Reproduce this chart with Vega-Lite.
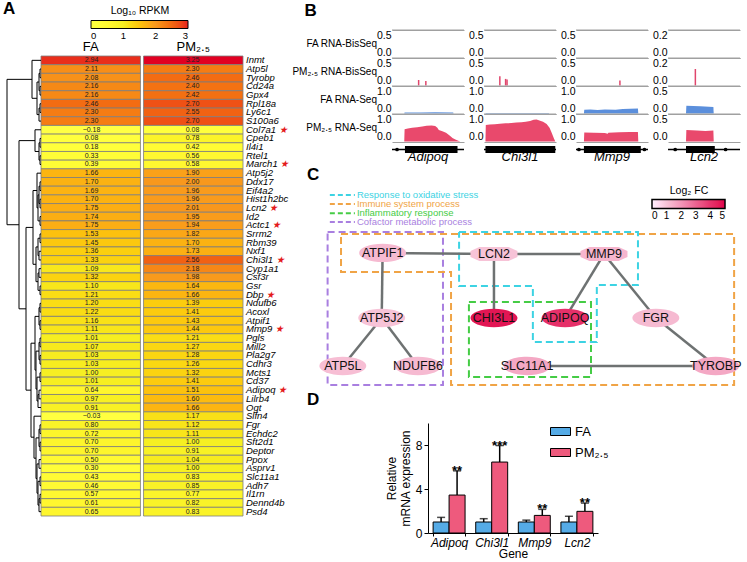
{
"$schema":"https://vega.github.io/schema/vega-lite/v6.json",
"background":"white",
"padding":{"left":3,"top":0,"right":0,"bottom":0},
"config":{"font":"Liberation Sans","view":{"stroke":null}},
"datasets":{
"heat":[
{"g":"Inmt","FA":2.94,"PM":3.25},{"g":"Atp5l","FA":2.11,"PM":2.30},{"g":"Tyrobp","FA":2.08,"PM":2.46},{"g":"Cd24a","FA":2.16,"PM":2.40},{"g":"Gpx4","FA":2.16,"PM":2.42},{"g":"Rpl18a","FA":2.46,"PM":2.70},{"g":"Ly6c1","FA":2.30,"PM":2.55},{"g":"S100a6","FA":2.30,"PM":2.70},
{"g":"Col7a1","FA":-0.18,"PM":0.08,"s":1},{"g":"Cpeb1","FA":0.08,"PM":0.78},{"g":"Il4i1","FA":0.18,"PM":0.42},{"g":"Rtel1","FA":0.33,"PM":0.56},{"g":"March1","FA":0.39,"PM":0.58,"s":1},
{"g":"Atp5j2","FA":1.66,"PM":1.90},{"g":"Ddx17","FA":1.70,"PM":2.00},{"g":"Eif4a2","FA":1.69,"PM":1.96},{"g":"Hist1h2bc","FA":1.70,"PM":1.96},{"g":"Lcn2","FA":1.75,"PM":2.01,"s":1},{"g":"Id2","FA":1.74,"PM":1.95},{"g":"Actc1","FA":1.75,"PM":1.94,"s":1},{"g":"Srrm2","FA":1.53,"PM":1.82},{"g":"Rbm39","FA":1.45,"PM":1.70},{"g":"Nxf1","FA":1.36,"PM":1.73},{"g":"Chi3l1","FA":1.33,"PM":2.56,"s":1},{"g":"Cyp1a1","FA":1.09,"PM":2.18},{"g":"Csf3r","FA":1.32,"PM":1.98},
{"g":"Gsr","FA":1.10,"PM":1.64},{"g":"Dbp","FA":1.21,"PM":1.66,"s":1},{"g":"Ndufb6","FA":1.20,"PM":1.39},{"g":"Acoxl","FA":1.22,"PM":1.41},{"g":"Atpif1","FA":1.16,"PM":1.43},{"g":"Mmp9","FA":1.11,"PM":1.44,"s":1},{"g":"Pgls","FA":1.01,"PM":1.21},{"g":"Mill2","FA":1.07,"PM":1.27},{"g":"Pla2g7","FA":1.03,"PM":1.28},{"g":"Cdhr3","FA":1.03,"PM":1.26},{"g":"Mcts1","FA":1.00,"PM":1.32},{"g":"Cd37","FA":1.01,"PM":1.41},{"g":"Adipoq","FA":0.64,"PM":1.51,"s":1},{"g":"Lilrb4","FA":0.97,"PM":1.60},{"g":"Ogt","FA":0.91,"PM":1.66},
{"g":"Slfn4","FA":-0.03,"PM":1.17},{"g":"Fgr","FA":0.80,"PM":1.12},{"g":"Echdc2","FA":0.72,"PM":1.11},{"g":"Sft2d1","FA":0.70,"PM":1.00},{"g":"Deptor","FA":0.70,"PM":0.91},{"g":"Ppox","FA":0.50,"PM":1.04},{"g":"Asprv1","FA":0.30,"PM":1.00},{"g":"Slc11a1","FA":0.43,"PM":0.83},{"g":"Adh7","FA":0.46,"PM":0.85},{"g":"Il1rn","FA":0.57,"PM":0.77},{"g":"Dennd4b","FA":0.61,"PM":0.82},{"g":"Psd4","FA":0.65,"PM":0.83}
],
"dendro":[
{"h":1,"ya":1.5,"ha":0,"yb":2.5,"hb":0},{"h":1,"ya":3.5,"ha":0,"yb":4.5,"hb":0},{"h":2,"ya":2,"ha":1,"yb":4,"hb":1},{"h":1,"ya":5.5,"ha":0,"yb":6.5,"hb":0},{"h":2,"ya":6,"ha":1,"yb":7.5,"hb":0},{"h":4,"ya":3,"ha":2,"yb":6.75,"hb":2},{"h":9,"ya":0.5,"ha":0,"yb":4.875,"hb":4},
{"h":1,"ya":9.5,"ha":0,"yb":10.5,"hb":0},{"h":1,"ya":11.5,"ha":0,"yb":12.5,"hb":0},{"h":2,"ya":10,"ha":1,"yb":12,"hb":1},{"h":6,"ya":8.5,"ha":0,"yb":11,"hb":2},
{"h":1,"ya":14.5,"ha":0,"yb":15.5,"hb":0},{"h":1,"ya":16.5,"ha":0,"yb":17.5,"hb":0},{"h":1,"ya":18.5,"ha":0,"yb":19.5,"hb":0},{"h":2,"ya":15,"ha":1,"yb":17,"hb":1},{"h":3,"ya":16,"ha":2,"yb":19,"hb":1},{"h":4,"ya":13.5,"ha":0,"yb":17.5,"hb":3},
{"h":1,"ya":20.5,"ha":0,"yb":21.5,"hb":0},{"h":2,"ya":22.5,"ha":0,"yb":23.5,"hb":0},{"h":2,"ya":24.5,"ha":0,"yb":25.5,"hb":0},{"h":1,"ya":26.5,"ha":0,"yb":27.5,"hb":0},{"h":3,"ya":21,"ha":1,"yb":23,"hb":2},{"h":3,"ya":25,"ha":2,"yb":27,"hb":1},{"h":5,"ya":22,"ha":3,"yb":26,"hb":3},{"h":8,"ya":15.5,"ha":4,"yb":24,"hb":5},
{"h":1,"ya":28.5,"ha":0,"yb":29.5,"hb":0},{"h":1,"ya":30.5,"ha":0,"yb":31.5,"hb":0},{"h":2,"ya":29,"ha":1,"yb":31,"hb":1},{"h":1,"ya":32.5,"ha":0,"yb":33.5,"hb":0},{"h":1,"ya":34.5,"ha":0,"yb":35.5,"hb":0},{"h":2,"ya":33,"ha":1,"yb":35,"hb":1},{"h":1,"ya":36.5,"ha":0,"yb":37.5,"hb":0},{"h":2,"ya":38.5,"ha":0,"yb":39.5,"hb":0},{"h":3,"ya":39,"ha":2,"yb":40.5,"hb":0},{"h":4,"ya":37,"ha":1,"yb":39.75,"hb":3},{"h":5,"ya":34,"ha":2,"yb":38.375,"hb":4},{"h":6,"ya":30,"ha":2,"yb":36.19,"hb":5},
{"h":1,"ya":42.5,"ha":0,"yb":43.5,"hb":0},{"h":1,"ya":44.5,"ha":0,"yb":45.5,"hb":0},{"h":2,"ya":43,"ha":1,"yb":45,"hb":1},{"h":2,"ya":46.5,"ha":0,"yb":47.5,"hb":0},{"h":1,"ya":48.5,"ha":0,"yb":49.5,"hb":0},{"h":1,"ya":50.5,"ha":0,"yb":51.5,"hb":0},{"h":2,"ya":51,"ha":1,"yb":52.5,"hb":0},{"h":3,"ya":49,"ha":1,"yb":51.75,"hb":2},{"h":4,"ya":47,"ha":2,"yb":50.375,"hb":3},{"h":5,"ya":44,"ha":2,"yb":48.69,"hb":4},{"h":7,"ya":41.5,"ha":0,"yb":46.34,"hb":5},
{"h":10,"ya":33.09,"ha":6,"yb":43.92,"hb":7},{"h":15,"ya":19.75,"ha":8,"yb":38.5,"hb":10},{"h":22,"ya":9.75,"ha":6,"yb":29.13,"hb":15},{"h":34,"ya":2.69,"ha":9,"yb":19.44,"hb":22}
],
"genome":[
{"g":"Adipoq","t":"FA RNA-BisSeq","k":"max","v":0.5},{"g":"Adipoq","t":"PM₂.₅ RNA-BisSeq","k":"max","v":0.5},{"g":"Adipoq","t":"FA RNA-Seq","k":"max","v":1.0},{"g":"Adipoq","t":"PM₂.₅ RNA-Seq","k":"max","v":1.0},
{"g":"Chi3l1","t":"FA RNA-BisSeq","k":"max","v":0.5},{"g":"Chi3l1","t":"PM₂.₅ RNA-BisSeq","k":"max","v":0.5},{"g":"Chi3l1","t":"FA RNA-Seq","k":"max","v":1.0},{"g":"Chi3l1","t":"PM₂.₅ RNA-Seq","k":"max","v":1.0},
{"g":"Mmp9","t":"FA RNA-BisSeq","k":"max","v":0.5},{"g":"Mmp9","t":"PM₂.₅ RNA-BisSeq","k":"max","v":0.5},{"g":"Mmp9","t":"FA RNA-Seq","k":"max","v":1.0},{"g":"Mmp9","t":"PM₂.₅ RNA-Seq","k":"max","v":1.0},
{"g":"Lcn2","t":"FA RNA-BisSeq","k":"max","v":0.2},{"g":"Lcn2","t":"PM₂.₅ RNA-BisSeq","k":"max","v":0.2},{"g":"Lcn2","t":"FA RNA-Seq","k":"max","v":0.5},{"g":"Lcn2","t":"PM₂.₅ RNA-Seq","k":"max","v":0.5},
{"g":"Adipoq","t":"PM₂.₅ RNA-Seq","k":"cov","p":17,"v":0},{"g":"Adipoq","t":"PM₂.₅ RNA-Seq","k":"cov","p":17.5,"v":0.45},{"g":"Adipoq","t":"PM₂.₅ RNA-Seq","k":"cov","p":22,"v":0.47},{"g":"Adipoq","t":"PM₂.₅ RNA-Seq","k":"cov","p":28,"v":0.5},{"g":"Adipoq","t":"PM₂.₅ RNA-Seq","k":"cov","p":35,"v":0.52},{"g":"Adipoq","t":"PM₂.₅ RNA-Seq","k":"cov","p":42,"v":0.55},{"g":"Adipoq","t":"PM₂.₅ RNA-Seq","k":"cov","p":48,"v":0.57},{"g":"Adipoq","t":"PM₂.₅ RNA-Seq","k":"cov","p":55,"v":0.58},{"g":"Adipoq","t":"PM₂.₅ RNA-Seq","k":"cov","p":60,"v":0.56},{"g":"Adipoq","t":"PM₂.₅ RNA-Seq","k":"cov","p":63,"v":0.5},{"g":"Adipoq","t":"PM₂.₅ RNA-Seq","k":"cov","p":65,"v":0.42},{"g":"Adipoq","t":"PM₂.₅ RNA-Seq","k":"cov","p":70,"v":0.37},{"g":"Adipoq","t":"PM₂.₅ RNA-Seq","k":"cov","p":75,"v":0.32},{"g":"Adipoq","t":"PM₂.₅ RNA-Seq","k":"cov","p":80,"v":0.22},{"g":"Adipoq","t":"PM₂.₅ RNA-Seq","k":"cov","p":84,"v":0.13},{"g":"Adipoq","t":"PM₂.₅ RNA-Seq","k":"cov","p":88,"v":0.07},{"g":"Adipoq","t":"PM₂.₅ RNA-Seq","k":"cov","p":92,"v":0.03},{"g":"Adipoq","t":"PM₂.₅ RNA-Seq","k":"cov","p":95,"v":0},
{"g":"Adipoq","t":"FA RNA-Seq","k":"cov","p":17,"v":0},{"g":"Adipoq","t":"FA RNA-Seq","k":"cov","p":17.5,"v":0.04},{"g":"Adipoq","t":"FA RNA-Seq","k":"cov","p":40,"v":0.04},{"g":"Adipoq","t":"FA RNA-Seq","k":"cov","p":60,"v":0.05},{"g":"Adipoq","t":"FA RNA-Seq","k":"cov","p":85,"v":0.04},{"g":"Adipoq","t":"FA RNA-Seq","k":"cov","p":85.5,"v":0},
{"g":"Adipoq","t":"PM₂.₅ RNA-BisSeq","k":"spike","p":37,"v":0.1},{"g":"Adipoq","t":"PM₂.₅ RNA-BisSeq","k":"spike","p":47,"v":0.08},
{"g":"Chi3l1","t":"PM₂.₅ RNA-Seq","k":"cov","p":2,"v":0},{"g":"Chi3l1","t":"PM₂.₅ RNA-Seq","k":"cov","p":2.5,"v":0.6},{"g":"Chi3l1","t":"PM₂.₅ RNA-Seq","k":"cov","p":8,"v":0.62},{"g":"Chi3l1","t":"PM₂.₅ RNA-Seq","k":"cov","p":15,"v":0.63},{"g":"Chi3l1","t":"PM₂.₅ RNA-Seq","k":"cov","p":22,"v":0.65},{"g":"Chi3l1","t":"PM₂.₅ RNA-Seq","k":"cov","p":30,"v":0.66},{"g":"Chi3l1","t":"PM₂.₅ RNA-Seq","k":"cov","p":38,"v":0.67},{"g":"Chi3l1","t":"PM₂.₅ RNA-Seq","k":"cov","p":45,"v":0.69},{"g":"Chi3l1","t":"PM₂.₅ RNA-Seq","k":"cov","p":52,"v":0.7},{"g":"Chi3l1","t":"PM₂.₅ RNA-Seq","k":"cov","p":58,"v":0.72},{"g":"Chi3l1","t":"PM₂.₅ RNA-Seq","k":"cov","p":64,"v":0.75},{"g":"Chi3l1","t":"PM₂.₅ RNA-Seq","k":"cov","p":69,"v":0.79},{"g":"Chi3l1","t":"PM₂.₅ RNA-Seq","k":"cov","p":73,"v":0.8},{"g":"Chi3l1","t":"PM₂.₅ RNA-Seq","k":"cov","p":77,"v":0.76},{"g":"Chi3l1","t":"PM₂.₅ RNA-Seq","k":"cov","p":82,"v":0.72},{"g":"Chi3l1","t":"PM₂.₅ RNA-Seq","k":"cov","p":87,"v":0.64},{"g":"Chi3l1","t":"PM₂.₅ RNA-Seq","k":"cov","p":91,"v":0.5},{"g":"Chi3l1","t":"PM₂.₅ RNA-Seq","k":"cov","p":94,"v":0.32},{"g":"Chi3l1","t":"PM₂.₅ RNA-Seq","k":"cov","p":97,"v":0.12},{"g":"Chi3l1","t":"PM₂.₅ RNA-Seq","k":"cov","p":99,"v":0},
{"g":"Chi3l1","t":"FA RNA-Seq","k":"cov","p":2,"v":0},{"g":"Chi3l1","t":"FA RNA-Seq","k":"cov","p":2.5,"v":0.02},{"g":"Chi3l1","t":"FA RNA-Seq","k":"cov","p":50,"v":0.02},{"g":"Chi3l1","t":"FA RNA-Seq","k":"cov","p":90,"v":0.02},{"g":"Chi3l1","t":"FA RNA-Seq","k":"cov","p":90.5,"v":0},
{"g":"Chi3l1","t":"PM₂.₅ RNA-BisSeq","k":"spike","p":22,"v":0.17},{"g":"Chi3l1","t":"PM₂.₅ RNA-BisSeq","k":"spike","p":30,"v":0.12},{"g":"Chi3l1","t":"PM₂.₅ RNA-BisSeq","k":"spike","p":32,"v":0.11},
{"g":"Mmp9","t":"PM₂.₅ RNA-Seq","k":"cov","p":11,"v":0},{"g":"Mmp9","t":"PM₂.₅ RNA-Seq","k":"cov","p":11.5,"v":0.33},{"g":"Mmp9","t":"PM₂.₅ RNA-Seq","k":"cov","p":25,"v":0.32},{"g":"Mmp9","t":"PM₂.₅ RNA-Seq","k":"cov","p":40,"v":0.31},{"g":"Mmp9","t":"PM₂.₅ RNA-Seq","k":"cov","p":44,"v":0.28},{"g":"Mmp9","t":"PM₂.₅ RNA-Seq","k":"cov","p":45,"v":0.32},{"g":"Mmp9","t":"PM₂.₅ RNA-Seq","k":"cov","p":60,"v":0.34},{"g":"Mmp9","t":"PM₂.₅ RNA-Seq","k":"cov","p":75,"v":0.35},{"g":"Mmp9","t":"PM₂.₅ RNA-Seq","k":"cov","p":86,"v":0.35},{"g":"Mmp9","t":"PM₂.₅ RNA-Seq","k":"cov","p":86.5,"v":0},
{"g":"Mmp9","t":"FA RNA-Seq","k":"cov","p":11,"v":0},{"g":"Mmp9","t":"FA RNA-Seq","k":"cov","p":11.5,"v":0.14},{"g":"Mmp9","t":"FA RNA-Seq","k":"cov","p":20,"v":0.15},{"g":"Mmp9","t":"FA RNA-Seq","k":"cov","p":30,"v":0.13},{"g":"Mmp9","t":"FA RNA-Seq","k":"cov","p":40,"v":0.15},{"g":"Mmp9","t":"FA RNA-Seq","k":"cov","p":55,"v":0.14},{"g":"Mmp9","t":"FA RNA-Seq","k":"cov","p":65,"v":0.16},{"g":"Mmp9","t":"FA RNA-Seq","k":"cov","p":75,"v":0.17},{"g":"Mmp9","t":"FA RNA-Seq","k":"cov","p":86,"v":0.18},{"g":"Mmp9","t":"FA RNA-Seq","k":"cov","p":86.5,"v":0},
{"g":"Mmp9","t":"PM₂.₅ RNA-BisSeq","k":"spike","p":61,"v":0.09},
{"g":"Lcn2","t":"PM₂.₅ RNA-Seq","k":"cov","p":25,"v":0},{"g":"Lcn2","t":"PM₂.₅ RNA-Seq","k":"cov","p":25.5,"v":0.21},{"g":"Lcn2","t":"PM₂.₅ RNA-Seq","k":"cov","p":40,"v":0.2},{"g":"Lcn2","t":"PM₂.₅ RNA-Seq","k":"cov","p":52,"v":0.19},{"g":"Lcn2","t":"PM₂.₅ RNA-Seq","k":"cov","p":63,"v":0.2},{"g":"Lcn2","t":"PM₂.₅ RNA-Seq","k":"cov","p":63.5,"v":0},
{"g":"Lcn2","t":"FA RNA-Seq","k":"cov","p":25,"v":0},{"g":"Lcn2","t":"FA RNA-Seq","k":"cov","p":25.5,"v":0.14},{"g":"Lcn2","t":"FA RNA-Seq","k":"cov","p":45,"v":0.13},{"g":"Lcn2","t":"FA RNA-Seq","k":"cov","p":63,"v":0.12},{"g":"Lcn2","t":"FA RNA-Seq","k":"cov","p":63.5,"v":0},
{"g":"Lcn2","t":"PM₂.₅ RNA-BisSeq","k":"spike","p":38,"v":0.12},
{"g":"Adipoq","t":"PM₂.₅ RNA-Seq","k":"line","p":0,"p2":100},{"g":"Adipoq","t":"PM₂.₅ RNA-Seq","k":"exon","p":18,"p2":91},{"g":"Adipoq","t":"PM₂.₅ RNA-Seq","k":"dot","p":7},
{"g":"Chi3l1","t":"PM₂.₅ RNA-Seq","k":"line","p":0,"p2":100},{"g":"Chi3l1","t":"PM₂.₅ RNA-Seq","k":"exon","p":2,"p2":99},
{"g":"Mmp9","t":"PM₂.₅ RNA-Seq","k":"line","p":0,"p2":100},{"g":"Mmp9","t":"PM₂.₅ RNA-Seq","k":"exon","p":11,"p2":90},{"g":"Mmp9","t":"PM₂.₅ RNA-Seq","k":"dot","p":4},{"g":"Mmp9","t":"PM₂.₅ RNA-Seq","k":"dot","p":95},
{"g":"Lcn2","t":"PM₂.₅ RNA-Seq","k":"line","p":0,"p2":100},{"g":"Lcn2","t":"PM₂.₅ RNA-Seq","k":"exon","p":25,"p2":65},{"g":"Lcn2","t":"PM₂.₅ RNA-Seq","k":"dot","p":10},{"g":"Lcn2","t":"PM₂.₅ RNA-Seq","k":"dot","p":80}
],
"nodes":[
{"name":"ATPIF1","x":17.4,"y":38.6,"fc":1.2,"type":"gene"},{"name":"LCN2","x":42.3,"y":39.1,"fc":1.0,"type":"hub"},{"name":"MMP9","x":66.9,"y":39.1,"fc":1.3,"type":"hub"},
{"name":"ATP5J2","x":17.2,"y":68.2,"fc":1.0,"type":"gene"},{"name":"CHI3L1","x":42.3,"y":68.2,"fc":4.7,"type":"gene"},{"name":"ADIPOQ","x":58.2,"y":68.2,"fc":4.1,"type":"gene"},{"name":"FGR","x":78.5,"y":68.2,"fc":1.2,"type":"gene"},
{"name":"ATP5L","x":8.5,"y":90,"fc":1.1,"type":"gene"},{"name":"NDUFB6","x":25.3,"y":90,"fc":1.2,"type":"gene"},{"name":"SLC11A1","x":49.7,"y":90,"fc":1.6,"type":"gene"},{"name":"TYROBP","x":91.9,"y":90,"fc":1.6,"type":"gene"}
],
"edges":[
{"s":"ATPIF1","t":"LCN2"},{"s":"LCN2","t":"MMP9"},{"s":"ATPIF1","t":"ATP5J2"},{"s":"ATP5J2","t":"ATP5L"},{"s":"ATP5J2","t":"NDUFB6"},{"s":"LCN2","t":"CHI3L1"},{"s":"MMP9","t":"ADIPOQ"},{"s":"MMP9","t":"FGR"},{"s":"FGR","t":"TYROBP"},{"s":"SLC11A1","t":"TYROBP"}
],
"boxes":[
{"c":"Cofactor metabolic process","i":0,"x":5.1,"y":29.1},{"c":"Cofactor metabolic process","i":1,"x":30.9,"y":29.1},{"c":"Cofactor metabolic process","i":2,"x":30.9,"y":98.6},{"c":"Cofactor metabolic process","i":3,"x":5.1,"y":98.6},{"c":"Cofactor metabolic process","i":4,"x":5.1,"y":29.1},
{"c":"Immune system process","i":0,"x":8.1,"y":30},{"c":"Immune system process","i":1,"x":96,"y":30},{"c":"Immune system process","i":2,"x":96,"y":98.6},{"c":"Immune system process","i":3,"x":32.7,"y":98.6},{"c":"Immune system process","i":4,"x":32.7,"y":47.3},{"c":"Immune system process","i":5,"x":8.1,"y":47.3},{"c":"Immune system process","i":6,"x":8.1,"y":30},
{"c":"Response to oxidative stress","i":0,"x":34.5,"y":29.1},{"c":"Response to oxidative stress","i":1,"x":74.5,"y":29.1},{"c":"Response to oxidative stress","i":2,"x":74.5,"y":53.2},{"c":"Response to oxidative stress","i":3,"x":65.3,"y":53.2},{"c":"Response to oxidative stress","i":4,"x":65.3,"y":79.1},{"c":"Response to oxidative stress","i":5,"x":51,"y":79.1},{"c":"Response to oxidative stress","i":6,"x":51,"y":53.6},{"c":"Response to oxidative stress","i":7,"x":34.5,"y":53.6},{"c":"Response to oxidative stress","i":8,"x":34.5,"y":29.1},
{"c":"Inflammatory response","i":0,"x":36.7,"y":60.9},{"c":"Inflammatory response","i":1,"x":64,"y":60.9},{"c":"Inflammatory response","i":2,"x":64,"y":95},{"c":"Inflammatory response","i":3,"x":36.7,"y":95},{"c":"Inflammatory response","i":4,"x":36.7,"y":60.9}
],
"cats":[
{"c":"Response to oxidative stress","ly":12.3},{"c":"Immune system process","ly":16.4},{"c":"Inflammatory response","ly":20.6},{"c":"Cofactor metabolic process","ly":24.5}
],
"qpcr":[
{"gene":"Adipoq","grp":"FA","m":1.0,"u":1.42,"sig":""},{"gene":"Adipoq","grp":"PM","m":3.45,"u":5.65,"sig":"**"},
{"gene":"Chi3l1","grp":"FA","m":1.0,"u":1.3,"sig":""},{"gene":"Chi3l1","grp":"PM","m":6.45,"u":7.95,"sig":"***"},
{"gene":"Mmp9","grp":"FA","m":1.0,"u":1.17,"sig":""},{"gene":"Mmp9","grp":"PM","m":1.6,"u":2.15,"sig":"**"},
{"gene":"Lcn2","grp":"FA","m":1.0,"u":1.52,"sig":""},{"gene":"Lcn2","grp":"PM","m":1.97,"u":2.72,"sig":"**"}
]
},
"resolve":{"scale":{"color":"independent","fill":"independent","stroke":"independent","shape":"independent"}},
"spacing":2,
"hconcat":[
{
"title":{"text":"A","anchor":"start","frame":"bounds","fontSize":17,"fontWeight":"bold","offset":-12},
"width":240,"height":486,
"resolve":{"scale":{"x":"independent","y":"independent"}},
"layer":[
{"data":{"name":"heat"},"transform":[{"fold":["FA","PM"],"as":["k","v"]}],
 "mark":{"type":"rect","stroke":"#7d7d7d","strokeWidth":0.8},
 "encoding":{
  "x":{"field":"k","type":"nominal","scale":{"domain":["FA","PM"],"range":[38,240],"paddingInner":0.03,"paddingOuter":0},
       "axis":{"orient":"top","title":null,"domain":false,"ticks":false,"labelAngle":0,"labelFontSize":13,"labelPadding":2,"offset":-25,"labelColor":"black","labelExpr":"datum.value == 'PM' ? 'PM₂.₅' : datum.value"}},
  "y":{"field":"g","type":"nominal","sort":null,"scale":{"range":[26,486],"paddingInner":0,"paddingOuter":0},"axis":null},
  "color":{"field":"v","type":"quantitative","scale":{"domain":[0,1,2,3],"range":["#ffffff","#f6ef22","#f8981d","#e8221c"]},
   "legend":{"orient":"none","legendX":88,"legendY":-24,"direction":"horizontal","gradientLength":97,"gradientThickness":8,"title":"Log₁₀ RPKM","titleAnchor":"middle","titleFontSize":10.5,"titleFontWeight":"normal","titlePadding":4,"labelFontSize":9.5,"values":[0,1,2,3],"gradientStrokeColor":"black","gradientStrokeWidth":1}}
 }},
{"data":{"name":"heat"},"transform":[{"fold":["FA","PM"],"as":["k","v"]}],
 "mark":{"type":"text","fontSize":7,"color":"#222222"},
 "encoding":{
  "x":{"field":"k","type":"nominal","scale":{"domain":["FA","PM"],"range":[38,240],"paddingInner":0.03,"paddingOuter":0},"axis":null},
  "y":{"field":"g","type":"nominal","sort":null,"scale":{"range":[26,486],"paddingInner":0,"paddingOuter":0},"axis":null},
  "text":{"field":"v","type":"quantitative","format":".2f"}
 }},
{"data":{"name":"heat"},"transform":[{"calculate":"datum.s ? datum.g + ' ★' : ''","as":"st"}],
 "mark":{"type":"text","align":"left","dx":3,"fontSize":9.5,"fontStyle":"italic","color":"#e41a1c"},
 "encoding":{
  "x":{"datum":1,"type":"quantitative","scale":{"domain":[0,1],"range":[38,240]},"axis":null},
  "y":{"field":"g","type":"nominal","sort":null,"scale":{"range":[26,486],"paddingInner":0,"paddingOuter":0},"axis":null},
  "text":{"field":"st"}
 }},
{"data":{"name":"heat"},"transform":[{"calculate":"datum.s ? datum.g : ''","as":"sg"}],
 "mark":{"type":"text","align":"left","dx":3,"fontSize":9.5,"fontStyle":"italic","color":"white","stroke":"white","strokeWidth":1.6},
 "encoding":{
  "x":{"datum":1,"type":"quantitative","scale":{"domain":[0,1],"range":[38,240]},"axis":null},
  "y":{"field":"g","type":"nominal","sort":null,"scale":{"range":[26,486],"paddingInner":0,"paddingOuter":0},"axis":null},
  "text":{"field":"sg"}
 }},
{"data":{"name":"heat"},
 "mark":{"type":"text","align":"left","dx":3,"fontSize":9.5,"fontStyle":"italic","color":"black"},
 "encoding":{
  "x":{"datum":1,"type":"quantitative","scale":{"domain":[0,1],"range":[38,240]},"axis":null},
  "y":{"field":"g","type":"nominal","sort":null,"scale":{"range":[26,486],"paddingInner":0,"paddingOuter":0},"axis":null},
  "text":{"field":"g"}
 }},
{"data":{"name":"dendro"},"mark":{"type":"rule","color":"black","strokeWidth":1},
 "encoding":{"x":{"field":"h","type":"quantitative","scale":{"domain":[0,34],"range":[38,4],"nice":false,"zero":false},"axis":null},
  "y":{"field":"ya","type":"quantitative","scale":{"domain":[0,53],"range":[26,486],"nice":false,"zero":false},"axis":null},"y2":{"field":"yb"}}},
{"data":{"name":"dendro"},"mark":{"type":"rule","color":"black","strokeWidth":1},
 "encoding":{"x":{"field":"ha","type":"quantitative","scale":{"domain":[0,34],"range":[38,4],"nice":false,"zero":false},"axis":null},"x2":{"field":"h"},
  "y":{"field":"ya","type":"quantitative","scale":{"domain":[0,53],"range":[26,486],"nice":false,"zero":false},"axis":null}}},
{"data":{"name":"dendro"},"mark":{"type":"rule","color":"black","strokeWidth":1},
 "encoding":{"x":{"field":"hb","type":"quantitative","scale":{"domain":[0,34],"range":[38,4],"nice":false,"zero":false},"axis":null},"x2":{"field":"h"},
  "y":{"field":"yb","type":"quantitative","scale":{"domain":[0,53],"range":[26,486],"nice":false,"zero":false},"axis":null}}}
]
},
{
"resolve":{"scale":{"color":"independent","fill":"independent","stroke":"independent","shape":"independent"}},
"spacing":2,
"vconcat":[
{
"title":{"text":"B","anchor":"start","frame":"bounds","fontSize":17,"fontWeight":"bold","dx":12,"offset":10},
"data":{"name":"genome"},
"bounds":"flush",
"facet":{
 "row":{"field":"t","type":"nominal","sort":["FA RNA-BisSeq","PM₂.₅ RNA-BisSeq","FA RNA-Seq","PM₂.₅ RNA-Seq"],"header":{"title":null,"labels":false}},
 "column":{"field":"g","type":"nominal","sort":["Adipoq","Chi3l1","Mmp9","Lcn2"],"header":{"title":null,"labelOrient":"bottom","labelFontStyle":"italic","labelFontSize":13,"labelPadding":9,"labelColor":"black"}}
},
"spacing":{"row":0,"column":20},
"resolve":{"scale":{"y":"independent"}},
"spec":{
 "width":72,"height":27.5,
 "layer":[
  {"transform":[{"filter":"datum.k == 'max'"}],
   "mark":{"type":"rule","color":"#a0a0a0","strokeWidth":1},
   "encoding":{"y":{"field":"v","type":"quantitative","scale":{"zero":true,"nice":false},
     "axis":{"title":null,"tickCount":1,"format":".1f","domain":false,"ticks":false,"grid":true,"gridColor":"#a0a0a0","gridOpacity":1,"labelFontSize":10.5,"labelPadding":1,"labelColor":"black","labelFlush":true}}}},
  {"transform":[{"filter":"datum.k == 'max' && datum.g == 'Adipoq'"}],
   "mark":{"type":"text","align":"right","baseline":"middle","dx":-15,"dy":14,"fontSize":10,"color":"black"},
   "encoding":{"x":{"datum":0,"type":"quantitative","axis":null},"y":{"field":"v","type":"quantitative"},"text":{"field":"t"}}},
  {"transform":[{"filter":"datum.k == 'cov'"}],
   "mark":{"type":"area","interpolate":"linear"},
   "encoding":{"x":{"field":"p","type":"quantitative","scale":{"domain":[0,100],"nice":false,"zero":false},"axis":null},
    "y":{"field":"v","type":"quantitative"},
    "color":{"field":"t","type":"nominal","scale":{"domain":["FA RNA-Seq","PM₂.₅ RNA-Seq"],"range":["#5b8fdc","#e9496c"]},"legend":null}}},
  {"transform":[{"filter":"datum.k == 'spike'"}],
   "mark":{"type":"rule","color":"#e0466c","strokeWidth":1.5},
   "encoding":{"x":{"field":"p","type":"quantitative","axis":null},"y":{"field":"v","type":"quantitative"},"y2":{"datum":0}}},
  {"transform":[{"filter":"datum.k == 'line'"}],
   "mark":{"type":"rule","color":"black","strokeWidth":1.5,"yOffset":8},
   "encoding":{"x":{"field":"p","type":"quantitative","axis":null},"x2":{"field":"p2"},"y":{"datum":0}}},
  {"transform":[{"filter":"datum.k == 'exon'"}],
   "mark":{"type":"rule","color":"black","strokeWidth":7,"yOffset":8},
   "encoding":{"x":{"field":"p","type":"quantitative","axis":null},"x2":{"field":"p2"},"y":{"datum":0}}},
  {"transform":[{"filter":"datum.k == 'dot'"}],
   "mark":{"type":"point","filled":true,"opacity":1,"color":"black","size":14,"yOffset":8},
   "encoding":{"x":{"field":"p","type":"quantitative","axis":null},"y":{"datum":0}}}
 ]
}
},
{
"title":{"text":"C","anchor":"start","frame":"group","fontSize":17,"fontWeight":"bold","dx":-85,"offset":-16},
"width":360,"height":220,
"layer":[
 {"data":{"name":"boxes"},"mark":{"type":"line","strokeDash":[7,4],"strokeWidth":2},
  "encoding":{"x":{"field":"x","type":"quantitative","scale":{"domain":[19.5,100],"nice":false,"zero":false},"axis":null},
   "y":{"field":"y","type":"quantitative","scale":{"domain":[0,100],"reverse":true,"nice":false,"zero":false},"axis":null},
   "order":{"field":"i"},
   "stroke":{"field":"c","type":"nominal","scale":{"domain":["Response to oxidative stress","Immune system process","Inflammatory response","Cofactor metabolic process"],"range":["#3dd3e3","#f0a446","#45cc45","#a97fe0"]},"legend":null}}},
 {"data":{"name":"cats"},"mark":{"type":"rule","strokeDash":[5,3],"strokeWidth":2},
  "encoding":{"x":{"datum":5.6},"x2":{"datum":11.2},"y":{"field":"ly","type":"quantitative"},
   "stroke":{"field":"c","type":"nominal","legend":null}}},
 {"data":{"name":"cats"},"mark":{"type":"text","align":"left","baseline":"middle","fontSize":9.5,"dx":2},
  "encoding":{"x":{"datum":11.2},"y":{"field":"ly","type":"quantitative"},"text":{"field":"c"},
   "color":{"field":"c","type":"nominal","scale":{"domain":["Response to oxidative stress","Immune system process","Inflammatory response","Cofactor metabolic process"],"range":["#3dd3e3","#f0a446","#45cc45","#a97fe0"]},"legend":null}}},
 {"data":{"name":"edges"},
  "transform":[{"lookup":"s","from":{"data":{"name":"nodes"},"key":"name","fields":["x","y"]},"as":["sx","sy"]},
               {"lookup":"t","from":{"data":{"name":"nodes"},"key":"name","fields":["x","y"]},"as":["tx","ty"]}],
  "mark":{"type":"rule","color":"#6e7272","strokeWidth":2.5},
  "encoding":{"x":{"field":"sx","type":"quantitative"},"y":{"field":"sy","type":"quantitative"},"x2":{"field":"tx"},"y2":{"field":"ty"}}},
 {"data":{"name":"nodes"},"mark":{"type":"point","filled":true,"opacity":1,"strokeWidth":0,"size":2209},
  "encoding":{"x":{"field":"x","type":"quantitative"},"y":{"field":"y","type":"quantitative"},
   "shape":{"field":"type","type":"nominal","scale":{"domain":["gene","hub"],"range":["M-1,0 A1,0.39 0 1,0 1,0 A1,0.39 0 1,0 -1,0 Z","M-1,-0.13 L-0.62,-0.3 L0.62,-0.3 L1,-0.13 L1,0.13 L0.62,0.3 L-0.62,0.3 L-1,0.13 Z"]},"legend":null},
   "fill":{"field":"fc","type":"quantitative","scale":{"domain":[0,1,2,3,4,5],"range":["#ffffff","#f7c3d7","#f295b7","#ec6391","#e6336c","#e0004a"]},
    "legend":{"orient":"none","legendX":260,"legendY":18,"direction":"horizontal","gradientLength":73,"gradientThickness":9,"title":"Log₂ FC","titleAnchor":"middle","titleFontSize":10.5,"titleFontWeight":"normal","titlePadding":3,"labelFontSize":10,"values":[0,1,2,3,4,5],"gradientStrokeColor":"black","gradientStrokeWidth":1.5}}}},
 {"data":{"name":"nodes"},"mark":{"type":"text","fontSize":12.5,"color":"#111111"},
  "encoding":{"x":{"field":"x","type":"quantitative"},"y":{"field":"y","type":"quantitative"},"text":{"field":"name"}}}
]
},
{
"title":{"text":"D","anchor":"start","frame":"group","fontSize":17,"fontWeight":"bold","dx":-85,"offset":12},
"width":206,"height":110,
"data":{"name":"qpcr"},
"layer":[
 {"mark":{"type":"bar","stroke":"black","strokeWidth":1},
  "encoding":{
   "x":{"field":"gene","type":"nominal","sort":["Adipoq","Chi3l1","Mmp9","Lcn2"],"scale":{"range":[36,206],"paddingInner":0.25,"paddingOuter":0.12},
        "axis":{"title":"Gene","titleFontSize":12,"titleFontWeight":"normal","titlePadding":0,"labelAngle":0,"labelFontStyle":"italic","labelFontSize":12,"labelColor":"black","domainColor":"black","tickColor":"black","tickBand":"extent","tickSize":3,"labelPadding":1}},
   "xOffset":{"field":"grp","sort":["FA","PM"]},
   "y":{"field":"m","type":"quantitative","scale":{"domain":[0,10],"nice":false},
        "axis":{"title":["Relative","mRNA expression"],"titleFontSize":12,"titleFontWeight":"normal","values":[0,2,4,6,8,10],"grid":false,"offset":-36,"labelFontSize":12,"labelColor":"black","domainColor":"black","tickColor":"black","tickSize":4,"titlePadding":3}},
   "color":{"field":"grp","type":"nominal","scale":{"domain":["FA","PM"],"range":["#55abe6","#ee5a7d"]},
    "legend":{"orient":"none","legendX":158,"legendY":-2,"title":null,"labelFontSize":13,"symbolType":"M-1,-0.4 L1,-0.4 L1,0.4 L-1,0.4 Z","symbolSize":400,"symbolStrokeColor":"black","symbolStrokeWidth":1,"rowPadding":3,"labelExpr":"datum.value == 'PM' ? 'PM₂.₅' : datum.value"}}
  }},
 {"mark":{"type":"rule","strokeWidth":1.5,"color":"black"},
  "encoding":{"x":{"field":"gene","type":"nominal","sort":["Adipoq","Chi3l1","Mmp9","Lcn2"]},"xOffset":{"field":"grp","sort":["FA","PM"]},"y":{"field":"m","type":"quantitative"},"y2":{"field":"u"}}},
 {"mark":{"type":"tick","thickness":1.5,"size":8,"color":"black"},
  "encoding":{"x":{"field":"gene","type":"nominal","sort":["Adipoq","Chi3l1","Mmp9","Lcn2"]},"xOffset":{"field":"grp","sort":["FA","PM"]},"y":{"field":"u","type":"quantitative"}}},
 {"mark":{"type":"text","fontSize":13,"fontWeight":"bold","baseline":"alphabetic","dy":4,"color":"black"},
  "encoding":{"x":{"field":"gene","type":"nominal","sort":["Adipoq","Chi3l1","Mmp9","Lcn2"]},"xOffset":{"field":"grp","sort":["FA","PM"]},"y":{"field":"u","type":"quantitative"},"text":{"field":"sig"}}}
]
}
]
}
]
}
